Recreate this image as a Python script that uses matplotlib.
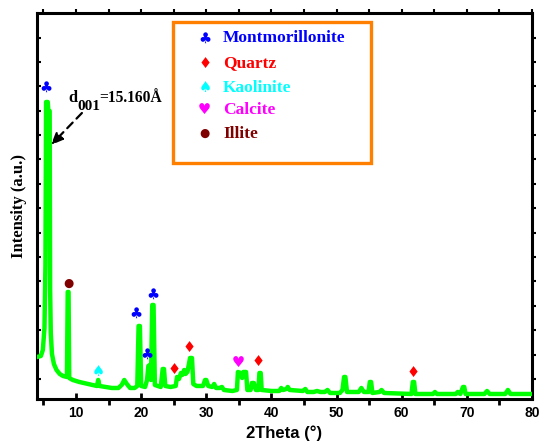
import matplotlib
matplotlib.use("Agg")
import matplotlib.pyplot as plt
from matplotlib.ticker import MultipleLocator, FixedLocator
from matplotlib.patches import Rectangle

# ---- XRD pattern (vertices) ----
two_theta = [4.0, 4.6, 4.9, 5.15, 5.3, 5.4, 5.65, 5.75, 5.95, 6.02, 6.12, 6.3, 6.6, 7.0, 7.5, 8.0,
             8.6, 8.72, 8.85, 8.95, 9.5, 10.5, 11.5, 12.5, 13.2, 13.4, 13.6, 14.5, 15.5, 16.5,
             17.0, 17.4, 17.8, 18.3, 19.0, 19.4, 19.6, 19.8, 20.0, 20.6, 20.9, 21.1, 21.3, 21.5,
             21.7, 21.9, 22.1, 23.0, 23.3, 23.5, 23.7, 24.5, 25.3, 25.5, 25.8, 26.1, 26.3, 26.6,
             26.8, 27.1, 27.5, 27.8, 28.0, 28.5, 29.5, 29.8, 30.0, 30.3, 30.9, 31.2, 31.5, 32.0,
             32.4, 32.7, 34.0, 34.7, 34.85, 35.3, 35.5, 35.7, 36.1, 36.3, 36.8, 37.0, 37.3, 37.6,
             38.0, 38.15, 38.35, 38.5, 40.0, 41.2, 41.5, 41.8, 42.3, 42.5, 42.8, 44.8, 45.2, 45.5,
             46.5, 47.0, 47.5, 48.2, 48.6, 49.0, 50.5, 50.9, 51.15, 51.35, 51.6, 53.4, 53.8, 54.2,
             54.9, 55.1, 55.3, 55.5, 56.6, 56.9, 57.3, 61.5, 61.7, 61.9, 62.1, 64.8, 65.1, 65.4,
             68.3, 68.6, 69.0, 69.4, 69.6, 69.8, 72.7, 73.1, 73.5, 75.9, 76.3, 76.7, 80.0]
intensity = [1722, 1763, 2009, 2900, 5500, 12177, 12177, 11808, 11808, 4500, 2700, 1850, 1435, 1189, 1025, 943,
             902, 4387, 4387, 861, 779, 697, 636, 574, 533, 779, 533, 492, 451, 451,
             574, 779, 615, 451, 451, 533, 2993, 2993, 533, 492, 779, 1353, 1394, 779,
             3854, 3854, 574, 492, 1230, 1230, 533, 492, 533, 902, 820, 1066, 984, 1189,
             1025, 1107, 1681, 1681, 615, 533, 533, 779, 779, 533, 492, 615, 451, 451,
             492, 369, 328, 369, 1107, 1066, 861, 1107, 1107, 369, 369, 656, 656, 369,
             369, 1066, 1066, 369, 328, 328, 451, 369, 410, 492, 369, 328, 410, 287,
             287, 328, 287, 287, 369, 246, 246, 369, 902, 902, 287, 287, 451, 287,
             287, 697, 697, 246, 287, 369, 246, 205, 697, 697, 205, 205, 287, 205,
             205, 287, 205, 492, 492, 205, 205, 328, 205, 205, 369, 205, 205]

# ---- phase markers ----
phase_names = ['Montmorillonite', 'Quartz', 'Kaolinite', 'Calcite', 'Illite']
phase_symbols = ['\u2663', '\u2666', '\u2660', '\u2665', '\u25CF']
phase_colors = ['#0000FF', '#FF0000', '#00FFFF', '#FF00FF', '#800000']
mont_x = [5.4, 19.2, 20.9, 21.85]
mont_y = [12792, 3526, 1845, 4305]
quartz_x = [25.1, 27.4, 38.0, 61.8]
quartz_y = [1189, 2091, 1517, 1066]
kaol_x = [13.4]
kaol_y = [1107]
calc_x = [34.9]
calc_y = [1476]
illite_x = [8.8]
illite_y = [4756]
marker_sets = [(mont_x, mont_y), (quartz_x, quartz_y), (kaol_x, kaol_y), (calc_x, calc_y), (illite_x, illite_y)]

fig = plt.figure(figsize=(5.39, 4.44), dpi=100)
ax = fig.add_axes([0.0686, 0.1014, 0.9184, 0.8693])

ax.plot(two_theta, intensity, color='#00FF00', lw=3.2, solid_joinstyle='round', zorder=3)

for (xs, ys), sym, col in zip(marker_sets, phase_symbols, phase_colors):
    for xv, yv in zip(xs, ys):
        fs = 8.5 if sym == '\u25CF' else 10.5
        ax.text(xv, yv, sym, color=col, fontsize=fs, ha='center', va='center',
                family='DejaVu Sans', zorder=4)

ax.set_xlim(4, 80)
ax.set_ylim(0, 15826)

# annotation: d001 = 15.160 Å (subscript drawn at near full size, as in the figure)
serif_bold = dict(family='Liberation Serif', fontweight='bold', transform=ax.transAxes,
                  ha='left', va='baseline')
ax.text(0.0626, 0.769, 'd', fontsize=11.8, **serif_bold)
ax.text(0.0808, 0.748, '001', fontsize=11, **serif_bold)
ax.text(0.1253, 0.769, '=15.160Å', fontsize=11.2, **serif_bold)
ax.annotate('', xy=(6.15, 10414), xytext=(10.9, 11726),
            arrowprops=dict(arrowstyle='-|>,head_length=0.7,head_width=0.3',
                            linestyle=(0, (3.5, 2.5)), lw=1.6, color='black',
                            shrinkA=0, shrinkB=0))

# legend box
ax.add_patch(Rectangle((0.275, 0.611), 0.40, 0.366, transform=ax.transAxes, fill=False,
                       edgecolor='#FF8000', lw=2.4, zorder=5))
row_y = [0.935, 0.870, 0.806, 0.749, 0.687]
for name, sym, col, ry in zip(phase_names, phase_symbols, phase_colors, row_y):
    fs = 8.5 if sym == '\u25CF' else 10.5
    ax.text(0.339, ry, sym, color=col, fontsize=fs, ha='center', va='center',
            family='DejaVu Sans', transform=ax.transAxes)
    ax.text(0.376, ry, name, color=col, fontsize=12.5, ha='left', va='center',
            family='Liberation Serif', fontweight='bold', transform=ax.transAxes)

# axes style
for s in ax.spines.values():
    s.set_linewidth(2.2)
ax.xaxis.set_major_locator(MultipleLocator(10))
ax.xaxis.set_minor_locator(MultipleLocator(5))
ax.yaxis.set_major_locator(FixedLocator([820 + 1000 * k for k in range(15)]))
ax.set_yticklabels([])
ax.tick_params(axis='x', which='major', direction='in', length=4, width=2,
               top=False, labelsize=10, pad=5)
ax.tick_params(axis='x', which='minor', direction='out', length=4, width=2, top=False)
ax.tick_params(axis='y', which='major', direction='in', length=3, width=1.5, right=False)
for lab in ax.get_xticklabels():
    lab.set_fontweight('bold')
    lab.set_family('Liberation Sans')

# top and right outward ticks
axt = ax.secondary_xaxis('top')
axt.xaxis.set_major_locator(MultipleLocator(5))
axt.tick_params(direction='out', length=3, width=1.5, labeltop=False)
axt.spines['top'].set_visible(False)
axr = ax.secondary_yaxis('right')
axr.yaxis.set_major_locator(FixedLocator([820 + 1000 * k for k in range(15)]))
axr.tick_params(direction='out', length=3, width=1.5, labelright=False)
axr.spines['right'].set_visible(False)

ax.set_xlabel('2Theta (°)', fontsize=12, fontweight='bold', family='Liberation Sans', labelpad=4)
ax.set_ylabel('Intensity (a.u.)', fontsize=12, fontweight='bold', family='Liberation Serif', labelpad=4)

fig.savefig('out.png', dpi=100)
